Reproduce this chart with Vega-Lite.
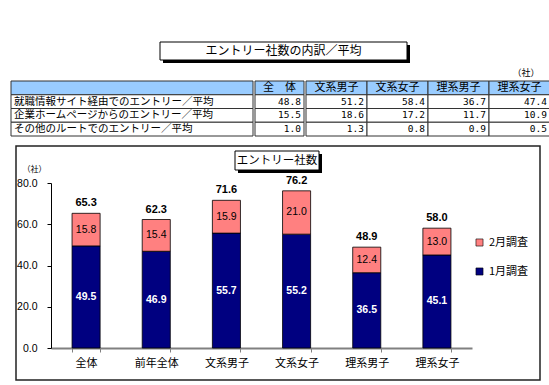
{
  "$schema": "https://vega.github.io/schema/vega-lite/v6.json",
  "padding": {"left": 10, "top": 41, "right": 4, "bottom": 4},
  "background": "white",
  "config": {
    "view": {"stroke": null},
    "font": "Noto Sans CJK JP",
    "text": {"color": "black"}
  },
  "datasets": {
    "entries": [
      {"区分": "全体", "調査": "1月調査", "社数": 49.5},
      {"区分": "全体", "調査": "2月調査", "社数": 15.8},
      {"区分": "前年全体", "調査": "1月調査", "社数": 46.9},
      {"区分": "前年全体", "調査": "2月調査", "社数": 15.4},
      {"区分": "文系男子", "調査": "1月調査", "社数": 55.7},
      {"区分": "文系男子", "調査": "2月調査", "社数": 15.9},
      {"区分": "文系女子", "調査": "1月調査", "社数": 55.2},
      {"区分": "文系女子", "調査": "2月調査", "社数": 21.0},
      {"区分": "理系男子", "調査": "1月調査", "社数": 36.5},
      {"区分": "理系男子", "調査": "2月調査", "社数": 12.4},
      {"区分": "理系女子", "調査": "1月調査", "社数": 45.1},
      {"区分": "理系女子", "調査": "2月調査", "社数": 13.0}
    ],
    "totals": [
      {"区分": "全体", "合計": 65.3},
      {"区分": "前年全体", "合計": 62.3},
      {"区分": "文系男子", "合計": 71.6},
      {"区分": "文系女子", "合計": 76.2},
      {"区分": "理系男子", "合計": 48.9},
      {"区分": "理系女子", "合計": 58.0}
    ],
    "rows": [
      {"行": "見出し"},
      {"行": "就職情報サイト経由でのエントリー／平均"},
      {"行": "企業ホームページからのエントリー／平均"},
      {"行": "その他のルートでのエントリー／平均"}
    ],
    "cells": [
      {"行": "見出し", "列": "全　体"},
      {"行": "見出し", "列": "文系男子"},
      {"行": "見出し", "列": "文系女子"},
      {"行": "見出し", "列": "理系男子"},
      {"行": "見出し", "列": "理系女子"},
      {"行": "就職情報サイト経由でのエントリー／平均", "列": "全　体", "値": 48.8},
      {"行": "就職情報サイト経由でのエントリー／平均", "列": "文系男子", "値": 51.2},
      {"行": "就職情報サイト経由でのエントリー／平均", "列": "文系女子", "値": 58.4},
      {"行": "就職情報サイト経由でのエントリー／平均", "列": "理系男子", "値": 36.7},
      {"行": "就職情報サイト経由でのエントリー／平均", "列": "理系女子", "値": 47.4},
      {"行": "企業ホームページからのエントリー／平均", "列": "全　体", "値": 15.5},
      {"行": "企業ホームページからのエントリー／平均", "列": "文系男子", "値": 18.6},
      {"行": "企業ホームページからのエントリー／平均", "列": "文系女子", "値": 17.2},
      {"行": "企業ホームページからのエントリー／平均", "列": "理系男子", "値": 11.7},
      {"行": "企業ホームページからのエントリー／平均", "列": "理系女子", "値": 10.9},
      {"行": "その他のルートでのエントリー／平均", "列": "全　体", "値": 1.0},
      {"行": "その他のルートでのエントリー／平均", "列": "文系男子", "値": 1.3},
      {"行": "その他のルートでのエントリー／平均", "列": "文系女子", "値": 0.8},
      {"行": "その他のルートでのエントリー／平均", "列": "理系男子", "値": 0.9},
      {"行": "その他のルートでのエントリー／平均", "列": "理系女子", "値": 0.5}
    ]
  },
  "spacing": 8,
  "resolve": {"scale": {"color": "independent"}, "legend": {"color": "independent"}},
  "vconcat": [
    {
      "spacing": 5,
      "vconcat": [
        {
          "spacing": 0,
          "hconcat": [
            {"width": 148, "height": 18, "data": {"values": [{}]}, "mark": {"type": "text"}, "encoding": {}},
            {
              "width": 247, "height": 18,
              "data": {"values": [{"見出し": "エントリー社数の内訳／平均"}]},
              "encoding": {
                "x": {"field": "見出し", "type": "nominal", "scale": {"type": "band", "paddingInner": 0, "paddingOuter": 0}, "axis": null},
                "y": {"field": "見出し", "type": "nominal", "scale": {"type": "band", "paddingInner": 0, "paddingOuter": 0}, "axis": null}
              },
              "layer": [
                {"mark": {"type": "rect", "fill": "black", "xOffset": 3, "yOffset": 3}},
                {"mark": {"type": "rect", "fill": "white", "stroke": "black", "strokeWidth": 1}},
                {"mark": {"type": "text", "fontSize": 12, "baseline": "middle", "color": "black"}, "encoding": {"text": {"field": "見出し"}}}
              ]
            }
          ]
        },
        {
          "title": {"text": "（社）", "anchor": "end", "fontSize": 9, "fontWeight": "normal", "offset": 3, "color": "black", "dx": -11},
          "spacing": 0,
          "hconcat": [
            {
              "width": 242, "height": 55,
              "data": {"name": "rows"},
              "encoding": {
                "x": {"datum": "項目", "type": "nominal", "scale": {"type": "band", "paddingInner": 0, "paddingOuter": 0}, "axis": null},
                "y": {"field": "行", "type": "nominal", "sort": ["見出し", "就職情報サイト経由でのエントリー／平均", "企業ホームページからのエントリー／平均", "その他のルートでのエントリー／平均"], "scale": {"type": "band", "paddingInner": 0, "paddingOuter": 0}, "axis": null}
              },
              "layer": [
                {
                  "mark": {"type": "rect", "stroke": "#333333", "strokeWidth": 1},
                  "encoding": {"color": {"condition": {"test": "datum['行'] === '見出し'", "value": "#99CCFF"}, "value": "white"}}
                },
                {
                  "transform": [{"filter": "datum['行'] !== '見出し'"}],
                  "mark": {"type": "text", "align": "left", "dx": 3, "fontSize": 10.5, "color": "black"},
                  "encoding": {
                    "x": {"datum": "項目", "type": "nominal", "bandPosition": 0},
                    "text": {"field": "行"}
                  }
                }
              ]
            },
            {
              "width": 49, "height": 55,
              "data": {"name": "cells"},
              "transform": [{"filter": "datum['列'] === '全　体'"}],
              "encoding": {
                "x": {"field": "列", "type": "nominal", "scale": {"type": "band", "paddingInner": 0, "paddingOuter": 0}, "axis": null},
                "y": {"field": "行", "type": "nominal", "sort": ["見出し", "就職情報サイト経由でのエントリー／平均", "企業ホームページからのエントリー／平均", "その他のルートでのエントリー／平均"], "scale": {"type": "band", "paddingInner": 0, "paddingOuter": 0}, "axis": null}
              },
              "layer": [
                {
                  "mark": {"type": "rect", "stroke": "#333333", "strokeWidth": 1},
                  "encoding": {"color": {"condition": {"test": "datum['行'] === '見出し'", "value": "#99CCFF"}, "value": "white"}}
                },
                {
                  "transform": [{"filter": "datum['行'] === '見出し'"}],
                  "mark": {"type": "text", "fontSize": 11, "color": "black"},
                  "encoding": {"text": {"field": "列"}}
                },
                {
                  "transform": [{"filter": "datum['行'] !== '見出し'"}],
                  "mark": {"type": "text", "font": "DejaVu Sans Mono", "fontSize": 9.5, "align": "right", "dx": -3, "color": "black"},
                  "encoding": {
                    "x": {"field": "列", "type": "nominal", "bandPosition": 1},
                    "text": {"field": "値", "format": ".1f"}
                  }
                }
              ]
            },
            {
              "width": 244, "height": 55,
              "data": {"name": "cells"},
              "transform": [{"filter": "datum['列'] !== '全　体'"}],
              "encoding": {
                "x": {"field": "列", "type": "nominal", "sort": ["文系男子", "文系女子", "理系男子", "理系女子"], "scale": {"type": "band", "paddingInner": 0, "paddingOuter": 0}, "axis": null},
                "y": {"field": "行", "type": "nominal", "sort": ["見出し", "就職情報サイト経由でのエントリー／平均", "企業ホームページからのエントリー／平均", "その他のルートでのエントリー／平均"], "scale": {"type": "band", "paddingInner": 0, "paddingOuter": 0}, "axis": null}
              },
              "layer": [
                {
                  "mark": {"type": "rect", "stroke": "#333333", "strokeWidth": 1},
                  "encoding": {"color": {"condition": {"test": "datum['行'] === '見出し'", "value": "#99CCFF"}, "value": "white"}}
                },
                {
                  "transform": [{"filter": "datum['行'] === '見出し'"}],
                  "mark": {"type": "text", "fontSize": 11, "color": "black"},
                  "encoding": {"text": {"field": "列"}}
                },
                {
                  "transform": [{"filter": "datum['行'] !== '見出し'"}],
                  "mark": {"type": "text", "font": "DejaVu Sans Mono", "fontSize": 9.5, "align": "right", "dx": -3, "color": "black"},
                  "encoding": {
                    "x": {"field": "列", "type": "nominal", "sort": ["文系男子", "文系女子", "理系男子", "理系女子"], "bandPosition": 1},
                    "text": {"field": "値", "format": ".1f"}
                  }
                }
              ]
            }
          ]
        }
      ]
    },
    {
      "spacing": 3,
      "resolve": {"scale": {"color": "independent"}, "legend": {"color": "independent"}},
      "hconcat": [
        {"width": 1, "height": 10, "data": {"values": [{}]}, "mark": {"type": "text"}, "encoding": {}},
        {
          "width": 524, "height": 234,
          "view": {"stroke": "#222222", "strokeWidth": 1.5, "fill": "white"},
          "resolve": {"scale": {"x": "independent", "y": "independent"}},
          "layer": [
            {
              "data": {"name": "entries"},
              "layer": [
                {
                  "mark": {"type": "bar", "stroke": "black", "strokeWidth": 0.8},
                  "encoding": {
                    "x": {
                      "field": "区分", "type": "nominal",
                      "sort": ["全体", "前年全体", "文系男子", "文系女子", "理系男子", "理系女子"],
                      "scale": {"range": [35, 456], "paddingInner": 0.6, "paddingOuter": 0.3},
                      "axis": {
                        "title": null, "orient": "bottom", "offset": -32, "labelAngle": 0,
                        "labelFont": "Noto Sans CJK JP", "labelFontSize": 11, "labelColor": "black", "labelPadding": 5,
                        "domainColor": "#808080", "domainWidth": 2, "tickColor": "#808080", "tickSize": 4, "tickBand": "extent"
                      }
                    },
                    "y": {
                      "field": "社数", "type": "quantitative", "stack": "zero",
                      "scale": {"domain": [0, 80], "range": [202, 37], "nice": false},
                      "axis": {
                        "title": "（社）", "offset": -35, "values": [0, 20, 40, 60, 80], "format": ".1f", "grid": false,
                        "domainColor": "black", "tickColor": "black", "tickSize": 4,
                        "labelFont": "Liberation Sans", "labelFontSize": 10.5, "labelColor": "black", "labelPadding": 10,
                        "titleAngle": 0, "titleFontWeight": "normal", "titleFontSize": 8, "titleFont": "Noto Sans CJK JP",
                        "titleX": -17, "titleY": 23, "titleAlign": "center", "titleBaseline": "middle", "titleColor": "black"
                      }
                    },
                    "color": {
                      "field": "調査", "type": "nominal",
                      "scale": {"domain": ["2月調査", "1月調査"], "range": ["#FF8080", "#000080"]},
                      "legend": {
                        "orient": "none", "legendX": 458, "legendY": 91, "title": null,
                        "symbolType": "square", "symbolSize": 50, "symbolStrokeColor": "black", "symbolStrokeWidth": 0.6,
                        "labelFont": "Noto Sans CJK JP", "labelFontSize": 11, "labelColor": "black", "rowPadding": 17, "labelOffset": 4
                      }
                    },
                    "order": {"field": "調査", "sort": "ascending"}
                  }
                },
                {
                  "mark": {"type": "text", "font": "Liberation Sans", "fontSize": 10.5, "fontWeight": "bold", "baseline": "middle"},
                  "encoding": {
                    "x": {"field": "区分", "type": "nominal", "sort": ["全体", "前年全体", "文系男子", "文系女子", "理系男子", "理系女子"]},
                    "y": {"field": "社数", "type": "quantitative", "stack": "zero", "bandPosition": 0.5},
                    "detail": {"field": "調査"},
                    "order": {"field": "調査", "sort": "ascending"},
                    "text": {"field": "社数", "format": ".1f"},
                    "color": {"value": "white"},
                    "opacity": {"condition": {"test": "datum['調査'] === '1月調査'", "value": 1}, "value": 0}
                  }
                },
                {
                  "mark": {"type": "text", "font": "Liberation Sans", "fontSize": 10.5, "baseline": "middle"},
                  "encoding": {
                    "x": {"field": "区分", "type": "nominal", "sort": ["全体", "前年全体", "文系男子", "文系女子", "理系男子", "理系女子"]},
                    "y": {"field": "社数", "type": "quantitative", "stack": "zero", "bandPosition": 0.5},
                    "detail": {"field": "調査"},
                    "order": {"field": "調査", "sort": "ascending"},
                    "text": {"field": "社数", "format": ".1f"},
                    "color": {"value": "black"},
                    "opacity": {"condition": {"test": "datum['調査'] === '2月調査'", "value": 1}, "value": 0}
                  }
                },
                {
                  "data": {"name": "totals"},
                  "mark": {"type": "text", "font": "Liberation Sans", "fontSize": 11, "fontWeight": "bold", "dy": -10, "baseline": "middle", "color": "black"},
                  "encoding": {
                    "x": {"field": "区分", "type": "nominal", "sort": ["全体", "前年全体", "文系男子", "文系女子", "理系男子", "理系女子"]},
                    "y": {"field": "合計", "type": "quantitative"},
                    "text": {"field": "合計", "format": ".1f"}
                  }
                }
              ]
            },
            {
              "data": {"values": [{"見出し": "エントリー社数"}]},
              "encoding": {
                "x": {"field": "見出し", "type": "nominal", "scale": {"type": "band", "range": [219, 303], "paddingInner": 0, "paddingOuter": 0}, "axis": null},
                "y": {"field": "見出し", "type": "nominal", "scale": {"type": "band", "range": [5, 24], "paddingInner": 0, "paddingOuter": 0}, "axis": null}
              },
              "layer": [
                {"mark": {"type": "rect", "fill": "black", "xOffset": 3, "yOffset": 3}},
                {"mark": {"type": "rect", "fill": "white", "stroke": "black", "strokeWidth": 1}},
                {"mark": {"type": "text", "fontSize": 11.5, "baseline": "middle", "color": "black"}, "encoding": {"text": {"field": "見出し"}}}
              ]
            }
          ]
        }
      ]
    }
  ]
}
